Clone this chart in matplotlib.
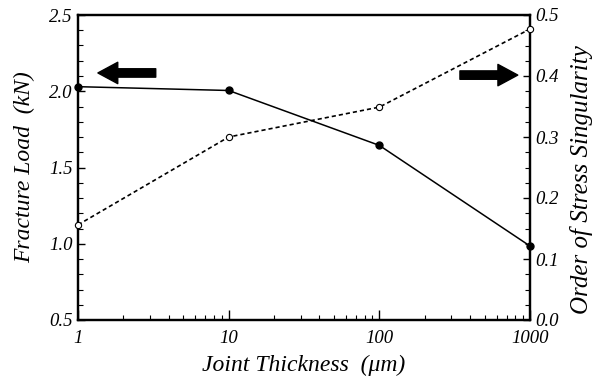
import matplotlib
matplotlib.use("Agg")
import matplotlib.pyplot as plt
from matplotlib.ticker import MultipleLocator, FixedLocator, FixedFormatter, LogLocator, FormatStrFormatter

thickness = [1, 10, 100, 1000]
fracture_load = [2.03, 2.005, 1.645, 0.985]
singularity = [0.156, 0.30, 0.349, 0.477]
x_tick_labels = ["1", "10", "100", "1000"]

plt.rcParams['font.family'] = ['Liberation Serif', 'DejaVu Serif']
plt.rcParams['font.style'] = 'italic'

fig = plt.figure(figsize=(6.0, 3.85), dpi=100)
ax = fig.add_axes([78/600, 1-320/385, 452/600, 305/385])
ax2 = ax.twinx()

ax.plot(thickness, fracture_load, color='black', lw=1.1, marker='o', ms=5, mfc='black', clip_on=False, zorder=5)
ax2.plot(thickness, singularity, color='black', lw=1.2, ls=(0, (2.5, 1.8)), marker='o', ms=4.5, mfc='white', mew=0.8, clip_on=False, zorder=5)

ax.set_xscale('log')
ax.set_xlim(1, 1000)
ax.set_ylim(0.5, 2.5)
ax2.set_ylim(0.0, 0.5)

ax.xaxis.set_major_locator(FixedLocator(thickness))
ax.xaxis.set_major_formatter(FixedFormatter(x_tick_labels))
ax.xaxis.set_minor_locator(LogLocator(base=10, subs=range(2, 10)))
ax.yaxis.set_major_locator(MultipleLocator(0.5))
ax.yaxis.set_minor_locator(MultipleLocator(0.1))
ax.yaxis.set_major_formatter(FormatStrFormatter('%.1f'))
ax2.yaxis.set_major_locator(MultipleLocator(0.1))
ax2.yaxis.set_minor_locator(MultipleLocator(0.025))
ax2.yaxis.set_major_formatter(FormatStrFormatter('%.1f'))

for a in (ax, ax2):
    for s in a.spines.values():
        s.set_linewidth(1.6)

ax.tick_params(axis='x', which='major', direction='in', length=7, width=1, labelsize=13.5, pad=7, top=False)
ax.tick_params(axis='x', which='minor', direction='in', length=3.5, width=0.8, top=False)
ax.tick_params(axis='y', which='major', direction='in', length=5, width=1, labelsize=13.5, pad=4, right=False)
ax.tick_params(axis='y', which='minor', direction='in', length=3.5, width=0.8, right=False)
ax2.tick_params(axis='y', which='major', direction='in', length=5, width=1, labelsize=13.5, pad=4)
ax2.tick_params(axis='y', which='minor', direction='in', length=3.5, width=0.8)

for lbl in ax.get_xticklabels() + ax.get_yticklabels() + ax2.get_yticklabels():
    lbl.set_fontstyle('italic')

ax.set_xlabel('Joint Thickness  (\u03bcm)', fontsize=17, labelpad=6, fontstyle='italic')
ax.set_ylabel('Fracture Load  (kN)', fontsize=17, labelpad=10, fontstyle='italic')
ax2.set_ylabel('Order of Stress Singularity', fontsize=18, fontstyle='italic')
ax2.yaxis.set_label_coords(1.088, 0.46)

arrow_style = 'simple,head_width=1.4,head_length=1.3,tail_width=0.55'
ax.annotate('', xy=(0.044, 0.81), xytext=(0.172, 0.81), xycoords='axes fraction',
            arrowprops=dict(arrowstyle=arrow_style, color='black', mutation_scale=11, shrinkA=0, shrinkB=0))
ax.annotate('', xy=(0.973, 0.803), xytext=(0.845, 0.803), xycoords='axes fraction',
            arrowprops=dict(arrowstyle=arrow_style, color='black', mutation_scale=11, shrinkA=0, shrinkB=0))

fig.savefig('out.png', dpi=100)
